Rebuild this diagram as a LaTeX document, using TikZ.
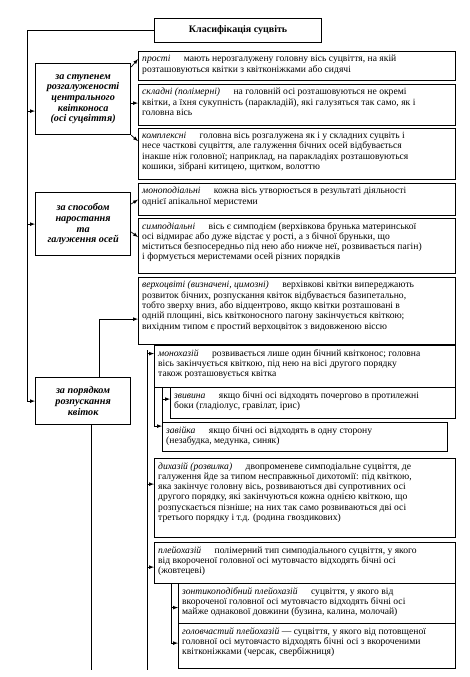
\documentclass[tikz,border=0pt]{standalone}
\usepackage{fontspec}
\setmainfont{Liberation Serif}

\newcommand{\termgap}{\hspace*{1.4em}}

\begin{document}
\begin{tikzpicture}[x=1pt, y=-1pt, font=\fontsize{9.6}{10.3}\selectfont,
  frame/.style={draw, line width=1.2pt, anchor=north west, inner sep=0pt},
  txt/.style={anchor=north west, inner sep=0pt, align=left},
  group/.style={frame, minimum width=95pt, align=center,
    font=\fontsize{10.2}{10.7}\selectfont\bfseries\itshape},
  link/.style={line width=0.7pt},
  arr/.style={link, -latex}]

\useasboundingbox (0,0) rectangle (470,677);

%% Geometry: pixel grid of the page, y grows downwards.
\def\xr{455}

%% ---------- title ----------
\node[frame, minimum width=167pt, minimum height=24pt, font=\fontsize{10}{11}\selectfont\bfseries]
  (title) at (154,18) {Класифікація суцвіть};

%% ---------- the three criteria ----------
\node[group, minimum height=71pt] (grpA) at (35,63)
  {за ступенем\\розгалуженості\\центрального\\квітконоса\\(осі суцвіття)};
\node[group, minimum height=63pt] (grpB) at (35,192)
  {за способом\\наростання\\та\\галуження осей};
\node[group, minimum height=47pt] (grpC) at (35,377)
  {за порядком\\розпускання\\квіток};

%% ---------- by branching of the main axis ----------
\node[frame, minimum width=\xr pt-138pt, minimum height=29pt] (simple) at (138,51) {};
\node[txt] at ([shift={(4pt,-4pt)}]simple.north west)
  {\textit{прості}\termgap мають нерозгалужену головну вісь суцвіття, на якій\\
   розташовуються квітки з квітконіжками або сидячі};

\node[frame, minimum width=\xr pt-138pt, minimum height=41pt] (compound) at (138,84) {};
\node[txt] at ([shift={(4pt,-4pt)}]compound.north west)
  {\textit{складні (полімерні)}\termgap на головній осі розташовуються не окремі\\
   квітки, а їхня сукупність (паракладій), які галузяться так само, як і\\
   головна вісь};

\node[frame, minimum width=\xr pt-138pt, minimum height=51pt] (complex) at (138,128) {};
\node[txt] at ([shift={(4pt,-4pt)}]complex.north west)
  {\textit{комплексні}\termgap головна вісь розгалужена як і у складних суцвіть і\\
   несе часткові суцвіття, але галуження бічних осей відбувається\\
   інакше ніж головної; наприклад, на паракладіях розташовуються\\
   кошики, зібрані китицею, щитком, волоттю};

%% ---------- by growth of the axes ----------
\node[frame, minimum width=\xr pt-138pt, minimum height=32pt] (monopod) at (138,183) {};
\node[txt] at ([shift={(4pt,-4pt)}]monopod.north west)
  {\textit{моноподіальні}\termgap кожна вісь утворюється в результаті діяльності\\
   однієї апікальної меристеми};

\node[frame, minimum width=\xr pt-138pt, minimum height=55pt] (sympod) at (138,218) {};
\node[txt] at ([shift={(4pt,-4pt)}]sympod.north west)
  {\textit{симподіальні}\termgap вісь є симподієм (верхівкова брунька материнської\\
   осі відмирає або дуже відстає у рості, а з бічної бруньки, що\\
   міститься безпосередньо під нею або нижче неї, розвивається пагін)\\
   і формується меристемами осей різних порядків};

%% ---------- by order of flowering ----------
\node[frame, minimum width=\xr pt-138pt, minimum height=67pt] (apex) at (138,277) {};
\node[txt] at ([shift={(4pt,-4pt)}]apex.north west)
  {\textit{верхоцвіті (визначені, цимозні)}\termgap верхівкові квітки випереджають\\
   розвиток бічних, розпускання квіток відбувається базипетально,\\
   тобто зверху вниз, або відцентрово, якщо квітки розташовані в\\
   одній площині, вісь квітконосного пагону закінчується квіткою;\\
   вихідним типом є простий верхоцвіток з видовженою віссю};

\node[frame, minimum width=\xr pt-154pt, minimum height=42pt] (mono) at (154,345) {};
\node[txt] at ([shift={(4pt,-4pt)}]mono.north west)
  {\textit{монохазій}\termgap розвивається лише один бічний квітконос; головна\\
   вісь закінчується квіткою, під нею на вісі другого порядку\\
   також розташовується квітка};

\node[frame, minimum width=\xr pt-170pt, minimum height=31pt] (wind) at (170,387) {};
\node[txt] at ([shift={(4pt,-4pt)}]wind.north west)
  {\textit{звивина}\termgap якщо бічні осі відходять почергово в протилежні\\
   боки (гладіолус, гравілат, ірис)};

\node[frame, minimum width=285pt, minimum height=29pt] (curl) at (162,422) {};
\node[txt] at ([shift={(4pt,-4pt)}]curl.north west)
  {\textit{завійка}\termgap якщо бічні осі відходять в одну сторону\\
   (незабудка, медунка, синяк)};

\node[frame, minimum width=\xr pt-154pt, minimum height=79pt] (dich) at (154,458) {};
\node[txt] at ([shift={(4pt,-4pt)}]dich.north west)
  {\textit{дихазій (розвилка)}\termgap двопроменеве симподіальне суцвіття, де\\
   галуження йде за типом несправжньої дихотомії: під квіткою,\\
   яка закінчує головну вісь, розвиваються дві супротивних осі\\
   другого порядку, які закінчуються кожна однією квіткою, що\\
   розпускається пізніше; на них так само розвиваються дві осі\\
   третього порядку і т.д. (родина гвоздикових)};

\node[frame, minimum width=\xr pt-154pt, minimum height=41pt] (pleio) at (154,542) {};
\node[txt] at ([shift={(4pt,-4pt)}]pleio.north west)
  {\textit{плейохазій}\termgap полімерний тип симподіального суцвіття, у якого\\
   від вкороченої головної осі мутовчасто відходять бічні осі\\
   (жовтецеві)};

\node[frame, minimum width=\xr pt-178pt, minimum height=40pt] (umbel) at (178,583) {};
\node[txt] at ([shift={(4pt,-4pt)}]umbel.north west)
  {\textit{зонтикоподібний плейохазій}\termgap суцвіття, у якого від\\
   вкороченої головної осі мутовчасто відходять бічні осі\\
   майже однакової довжини (бузина, калина, молочай)};

\node[frame, minimum width=\xr pt-178pt, minimum height=45pt] (head) at (178,623) {};
\node[txt] at ([shift={(4pt,-4pt)}]head.north west)
  {\textit{головчастий плейохазій} — суцвіття, у якого від потовщеної\\
   головної осі мутовчасто відходять бічні осі з вкороченими\\
   квітконіжками (черсак, свербіжниця)};

%% ---------- left trunk from the title ----------
\draw[arr] (title.west) -| ([xshift=-8pt]grpC.west) -- (grpC.west);
\draw[arr] ([shift={(-8pt,-12pt)}]grpA.west) -- ([yshift=-12pt]grpA.west);
\draw[arr] ([xshift=-8pt]grpB.west) -- (grpB.west);

%% ---------- criterion -> types ----------
\draw[arr] ([yshift=-4pt]grpA.north east) -- ([yshift=7pt]simple.west);
\draw[arr] ([yshift=-4pt]grpA.east) -- ([yshift=-4pt]grpA.east -| compound.west);
\draw[arr] (grpA.south east) -- ([yshift=13pt]complex.west);

\draw[arr] ([yshift=-12pt]grpB.north east) -- ([yshift=0pt]monopod.west);
\draw[arr] ([yshift=-40pt]grpB.north east) -- ([yshift=9pt]sympod.west);

\draw[arr] ([xshift=16pt]grpC.north) |- ([yshift=-8pt]apex.west);

%% ---------- spines ----------
\coordinate (tail) at (91,670);
\draw[link] (grpC.south -| tail) -- (tail);

\coordinate (spineTop) at (147,350);
\coordinate (spineEnd) at (147,670);
\draw[link] (spineTop) -- (spineEnd);
\foreach \n/\dy in {mono/13, dich/14, pleio/-4}
  \draw[arr] ([yshift=\dy pt]\n.west -| spineTop) -- ([yshift=\dy pt]\n.west);

\draw[link] (curl.north west |- mono.south) -- (curl.north west);
\draw[arr] ([yshift=4pt]wind.west -| curl.west) -- ([yshift=4pt]wind.west);
\draw[arr] (mono.south west) |- ([yshift=11pt]curl.west);

\draw[arr] ([xshift=-7pt]umbel.north west) |- ([yshift=-4pt]umbel.west);
\draw[arr] ([xshift=-7pt]umbel.north west) |- ([yshift=3pt]head.west);

\end{tikzpicture}
\end{document}
